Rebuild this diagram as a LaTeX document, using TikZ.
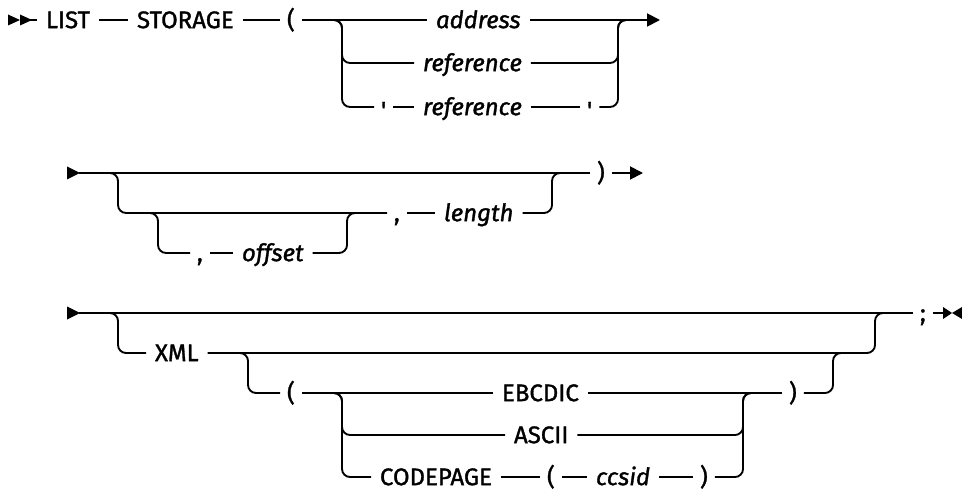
\documentclass[tikz,border=0pt]{standalone}
\usepackage{fontspec}
\setmainfont{Fira Sans}[Ligatures=TeXOff,
    UprightFeatures={FakeBold=1.3}, ItalicFeatures={FakeBold=1.3}]
\usetikzlibrary{arrows.meta}

\begin{document}
\begin{tikzpicture}[x=0.75pt, y=-0.75pt, >={Triangle[length=9.75pt,width=9.75pt]},
    rail/.style={line width=1.4pt, rounded corners=6pt},
    kw/.style={anchor=west, inner xsep=6.75pt, inner ysep=0pt, outer sep=0pt,
        text height=12.2pt, text depth=0pt, font=\fontsize{18}{20}\selectfont},
    var/.style={kw, font=\fontsize{18}{20}\selectfont\itshape},
    sym/.style={kw, inner xsep=5.25pt}]
    \useasboundingbox (0,0) rectangle (962,491);

    % Dòng thứ nhất
    \fill (8,14.5) -- (20,20) -- (8,25.5) -- cycle;
    \fill (20,14.5) -- (32,20) -- (20,25.5) -- cycle;
    \coordinate (s1) at (20,20);
    \node[kw] (list) at (37,20) {LIST};
    \node[kw] (stor) at (128,20) {STORAGE\hspace{14pt}};
    \node[sym] (lp1) at (280,20) {(};
    \node[var] (addr) at (427,20) {address\hspace{8pt}};
    \node[var] (ref1) at (414,63) {reference\hspace{11pt}};
    \node[sym] (q1) at (374,107) {\raisebox{-2.5pt}{'}};
    \node[var] (ref2) at (414,107) {reference\hspace{12pt}};
    \node[sym] (q2) at (580,107) {\raisebox{-2.5pt}{'}};
    \coordinate (a0) at (330,20);
    \coordinate (aV) at (342,20);
    \coordinate (aR) at (618,20);
    \coordinate (aJ) at (632,20);
    \coordinate (aEnd) at (660,20);

    \draw[rail] (s1) -- (list);
    \draw[rail] (list) -- (stor);
    \draw[rail] (stor) -- (lp1);
    \draw[rail] (lp1) -- (addr);
    \draw[rail,->] (addr) -- (aEnd);
    \draw[rail] (a0) -- (aV) -- (aV |- ref1.west) -- (ref1.west);
    \draw[rail] (a0) -- (aV) -- (aV |- q1.west) -- (q1.west);
    \draw[rail] (q1) -- (ref2);
    \draw[rail] (ref2) -- (q2);
    \draw[rail] (ref1.east) -- (aR |- ref1.east) -- (aR) -- (aJ);
    \draw[rail] (q2.east) -- (aR |- q2.east) -- (aR) -- (aJ);

    % Dòng thứ hai
    \fill (67,166.5) -- (80,173) -- (67,179.5) -- cycle;
    \coordinate (s2) at (79,173);
    \coordinate (b0) at (106,173);
    \coordinate (bV) at (118,173);
    \node[sym] (com1) at (387,213) {,};
    \node[var] (len) at (435,213) {length\hspace{11pt}};
    \coordinate (bY) at (552,173);
    \coordinate (bJ) at (566,173);
    \coordinate (bW0) at (146,213);
    \coordinate (bW) at (158,213);
    \node[sym] (com2) at (190,253) {,};
    \node[var] (off) at (233,253) {offset\hspace{11pt}};
    \coordinate (bX) at (347,213);
    \coordinate (bXJ) at (361,213);
    \node[sym] (rp1) at (590,173) {)};
    \coordinate (bEnd) at (643,173);

    \draw[rail] (s2) -- (rp1);
    \draw[rail,->] (rp1) -- (bEnd);
    \draw[rail] (b0) -- (bV) -- (bV |- com1.west) -- (com1.west);
    \draw[rail] (com1) -- (len);
    \draw[rail] (len.east) -- (bY |- len.east) -- (bY) -- (bJ);
    \draw[rail] (bW0) -- (bW) -- (bW |- com2.west) -- (com2.west);
    \draw[rail] (com2) -- (off);
    \draw[rail] (off.east) -- (bX |- off.east) -- (bX) -- (bXJ);

    % Dòng thứ ba
    \fill (67,306.5) -- (80,313) -- (67,319.5) -- cycle;
    \coordinate (s3) at (79,313);
    \node[sym] (semi) at (913,313) {;};
    \fill (943,307) -- (952,313) -- (943,319) -- cycle;
    \fill (962,307) -- (952,313) -- (962,319) -- cycle;
    \coordinate (cEnd) at (944,313);
    \coordinate (c0) at (106,313);
    \coordinate (cV) at (118,313);
    \node[kw] (xml) at (146,353) {XML};
    \coordinate (cR) at (875,313);
    \coordinate (cRJ) at (889,313);
    \coordinate (cW0) at (236,353);
    \coordinate (cW) at (248,353);
    \node[sym] (lp2) at (280,393) {(};
    \node[kw] (ebc) at (493,393) {EBCDIC\hspace{6pt}};
    \node[sym] (rp2) at (782,393) {)};
    \coordinate (cZ) at (833,353);
    \coordinate (cZJ) at (847,353);
    \coordinate (cX0) at (330,393);
    \coordinate (cX) at (342,393);
    \node[kw] (asc) at (505,435) {ASCII};
    \node[kw] (cp) at (371,477) {CODEPAGE\hspace{12pt}};
    \node[sym] (lp3) at (540,477) {(};
    \node[var] (cc) at (587,477) {ccsid\hspace{8pt}};
    \node[sym] (rp3) at (693,477) {)};
    \coordinate (cY) at (743,393);
    \coordinate (cYJ) at (757,393);

    \draw[rail] (s3) -- (semi);
    \draw[rail] (semi) -- (cEnd);
    \draw[rail] (c0) -- (cV) -- (cV |- xml.west) -- (xml.west);
    \draw[rail] (xml.east) -- (cR |- xml.east) -- (cR) -- (cRJ);
    \draw[rail] (cW0) -- (cW) -- (cW |- lp2.west) -- (lp2.west);
    \draw[rail] (lp2) -- (ebc);
    \draw[rail] (ebc) -- (rp2);
    \draw[rail] (rp2.east) -- (cZ |- rp2.east) -- (cZ) -- (cZJ);
    \draw[rail] (cX0) -- (cX) -- (cX |- asc.west) -- (asc.west);
    \draw[rail] (cX0) -- (cX) -- (cX |- cp.west) -- (cp.west);
    \draw[rail] (asc.east) -- (cY |- asc.east) -- (cY) -- (cYJ);
    \draw[rail] (cp) -- (lp3);
    \draw[rail] (lp3) -- (cc);
    \draw[rail] (cc) -- (rp3);
    \draw[rail] (rp3.east) -- (cY |- rp3.east) -- (cY) -- (cYJ);
\end{tikzpicture}
\end{document}
